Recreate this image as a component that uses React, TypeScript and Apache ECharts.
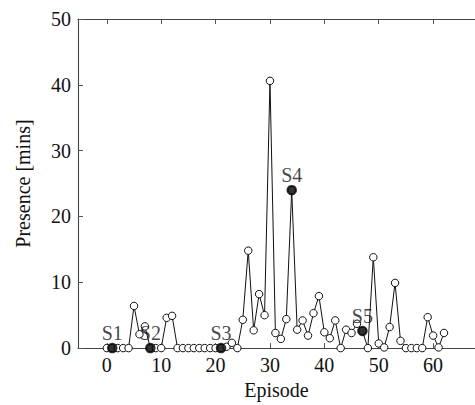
import { useEffect, useRef } from 'react';
import * as echarts from 'echarts';

// Presence per episode (episode = array index, 0..62)
const presence = [
  0, 0, 0, 0, 0, 6.4, 2.1, 3.3, 0, 0,
  0, 4.6, 4.9, 0, 0, 0, 0, 0, 0, 0,
  0, 0, 0.2, 0.8, 0, 4.3, 14.8, 2.7, 8.2, 5.0,
  40.6, 2.3, 1.4, 4.4, 24.0, 2.8, 4.2, 1.9, 5.3, 7.9,
  2.4, 1.5, 4.2, 0, 2.8, 2.3, 3.7, 2.6, 0, 13.8,
  0.7, 0.1, 3.2, 9.9, 1.1, 0, 0, 0, 0, 4.7,
  1.9, 0.1, 2.3,
];
const sessionEpisodes = [1, 8, 21, 34, 47];
const sessionLabels = ['S1', 'S2', 'S3', 'S4', 'S5'];
const xTicks = [0, 10, 20, 30, 40, 50, 60];

export default function App() {
  const ref = useRef<HTMLDivElement>(null);
  useEffect(() => {
    const chart = echarts.init(ref.current!, null, { renderer: 'svg' });
    const font = 'Liberation Serif';
    const fs = 20;
    const txt = '#111';
    const axisLine = { show: true, onZero: false, lineStyle: { color: '#444', width: 1.1 } };
    const tickStyle = { color: '#555', width: 1 };
    chart.setOption({
      animation: false,
      backgroundColor: '#fff',
      grid: { left: 78, top: 19, width: 400, height: 334 },
      xAxis: [
        {
          type: 'value', min: -5.3, max: 67.7, position: 'bottom',
          axisLine,
          axisTick: { show: true, inside: true, length: 5, customValues: xTicks, lineStyle: tickStyle },
          axisLabel: { customValues: xTicks, fontFamily: font, fontSize: fs, color: txt, margin: 7 },
          splitLine: { show: false },
          name: 'Episode', nameLocation: 'middle', nameGap: 31,
          nameTextStyle: { fontFamily: font, fontSize: fs, color: txt },
        },
        {
          type: 'value', min: -5.3, max: 67.7, position: 'top',
          axisLine,
          axisTick: { show: true, inside: true, length: 5, customValues: xTicks, lineStyle: tickStyle },
          axisLabel: { show: false },
          splitLine: { show: false },
        },
      ],
      yAxis: [
        {
          type: 'value', min: 0, max: 50, interval: 10,
          axisLine,
          axisTick: { show: true, inside: true, length: 5, lineStyle: tickStyle },
          axisLabel: { fontFamily: font, fontSize: fs, color: txt, margin: 7 },
          splitLine: { show: false },
          name: 'Presence [mins]', nameLocation: 'middle', nameGap: 45, nameRotate: 90,
          nameTextStyle: { fontFamily: font, fontSize: fs, color: txt },
        },
      ],
      series: [
        {
          type: 'line',
          data: presence.map((v, i) => [i, v]),
          symbol: 'circle',
          symbolSize: 7.5,
          itemStyle: { color: '#fff', borderColor: '#111', borderWidth: 1 },
          lineStyle: { color: '#111', width: 1 },
          z: 2,
        },
        {
          type: 'scatter',
          data: sessionEpisodes.map((e) => [e, presence[e]]),
          symbol: 'circle',
          symbolSize: 10.5,
          itemStyle: { color: '#000' },
          z: 3,
          label: {
            show: true, position: 'top', distance: 0,
            formatter: (p: any) => sessionLabels[p.dataIndex],
            fontFamily: font, fontSize: fs, color: txt,
          },
        },
      ],
    });
    return () => chart.dispose();
  }, []);
  return (
    <div
      ref={ref}
      style={{ position: 'fixed', left: 0, top: 0, width: 475, height: 405, background: '#fff' }}
    />
  );
}
